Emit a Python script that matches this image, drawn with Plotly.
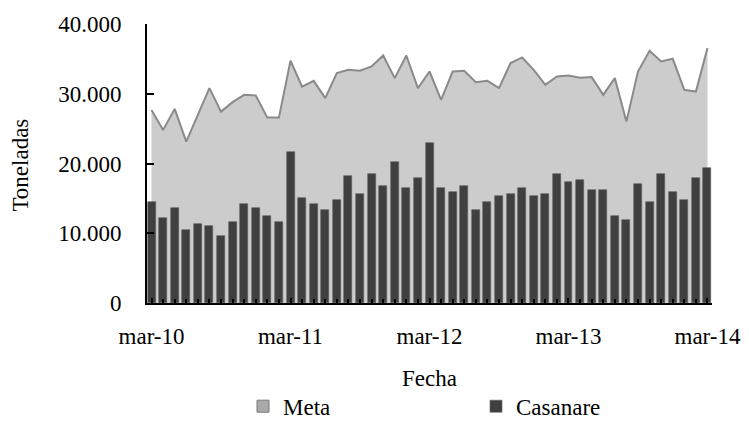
import plotly.graph_objects as go

meses = ["mar", "abr", "may", "jun", "jul", "ago", "sep", "oct", "nov", "dic", "ene", "feb"]
fechas = []
for i in range(49):
    m = meses[i % 12]
    yr = 10 + (i + 2) // 12
    fechas.append(f"{m}-{yr:02d}")

meta = [27687, 24813, 27830, 23132, 26968, 30805, 27443, 28793, 29842, 29742,
        26580, 26580, 34727, 31034, 31853, 29368, 32960, 33434, 33290, 33908,
        35489, 32241, 35489, 30805, 33190, 29124, 33190, 33290, 31666, 31853,
        30805, 34397, 35201, 33434, 31279, 32471, 32615, 32285, 32385, 29842,
        32241, 26006, 33190, 36164, 34626, 35014, 30560, 30316, 36552]

casanare = [14425, 12126, 13563, 10402, 11264, 10977, 9540, 11552, 14138, 13563,
            12414, 11552, 21609, 15000, 14138, 13276, 14713, 18161, 15575, 18448,
            16724, 20172, 16437, 17874, 22989, 16437, 15862, 16724, 13276, 14425,
            15287, 15575, 16437, 15287, 15575, 18448, 17299, 17586, 16149, 16149,
            12414, 11839, 17011, 14425, 18448, 15862, 14713, 17874, 19310]

tick_labels = ["mar-10", "mar-11", "mar-12", "mar-13", "mar-14"]
y_ticks = [0, 10000, 20000, 30000, 40000]

idx = list(range(len(fechas)))
tick_pos = [fechas.index(t) for t in tick_labels]

FONT = "Liberation Serif"
TXT = dict(family=FONT, size=23, color="black")

fig = go.Figure()

# Meta area (bottom layer)
fig.add_trace(go.Scatter(
    x=idx, y=meta, name="Meta", mode="lines",
    line=dict(color="#8a8a8a", width=2),
    fill="tozeroy", fillcolor="#cccccc",
    showlegend=False, hovertext=fechas, xaxis="x", yaxis="y"))

# Casanare bars (on overlay axis so they are drawn above the area)
fig.add_trace(go.Bar(
    x=idx, y=casanare, name="Casanare",
    marker=dict(color="#404040", line=dict(color="#5a5a5a", width=0.6)),
    width=0.69, hovertext=fechas, xaxis="x", yaxis="y2", legend="legend2"))

# legend entry for Meta (square icon like the reference)
fig.add_trace(go.Bar(
    x=[None], y=[None], name="Meta",
    marker=dict(color="#a9a9a9", line=dict(color="#7a7a7a", width=1)),
    xaxis="x", yaxis="y2", showlegend=True, legend="legend"))

leg_common = dict(orientation="h", xanchor="left", yanchor="middle", y=-0.37,
                  font=TXT, itemwidth=30, bgcolor="rgba(0,0,0,0)")

# page body has an 8px margin, so the figure is 741x418 and offsets are reduced by 8
fig.update_layout(
    width=741, height=418,
    margin=dict(l=139, r=37, t=16, b=123, autoexpand=False),
    paper_bgcolor="white", plot_bgcolor="white",
    separators=",.",
    font=TXT,
    showlegend=True,
    legend=dict(x=(243 - 147) / 565, **leg_common),
    legend2=dict(x=(476 - 147) / 565, **leg_common),
    xaxis=dict(
        range=[-0.39, 48.39], showgrid=False, zeroline=False, automargin=False,
        showline=True, linecolor="black", linewidth=2,
        tickmode="array", tickvals=tick_pos, ticktext=tick_labels,
        ticks="inside", ticklen=5, tickcolor="black", tickwidth=2,
        ticklabelstandoff=11,
        minor=dict(tickmode="linear", tick0=0, dtick=1, ticks="inside",
                   ticklen=4, tickcolor="black", tickwidth=1.5),
        tickfont=TXT,
    ),
    yaxis=dict(
        range=[0, 40000], showgrid=False, zeroline=False, automargin=False,
        showline=True, linecolor="black", linewidth=2,
        tickmode="array", tickvals=y_ticks, tickformat=",.0f",
        ticks="inside", ticklen=7, tickcolor="black", tickwidth=2,
        ticklabelstandoff=19,
        tickfont=TXT,
    ),
    yaxis2=dict(range=[0, 40000], overlaying="y", visible=False),
    bargap=0,
    annotations=[
        dict(text="Toneladas", xref="paper", yref="paper", x=-0.224, y=0.494,
             textangle=-90, showarrow=False, xanchor="center", yanchor="middle",
             font=TXT),
        dict(text="Fecha", xref="paper", yref="paper", x=0.5, y=-0.27,
             showarrow=False, xanchor="center", yanchor="middle",
             font=TXT),
    ],
)

fig.write_html("out.html")
